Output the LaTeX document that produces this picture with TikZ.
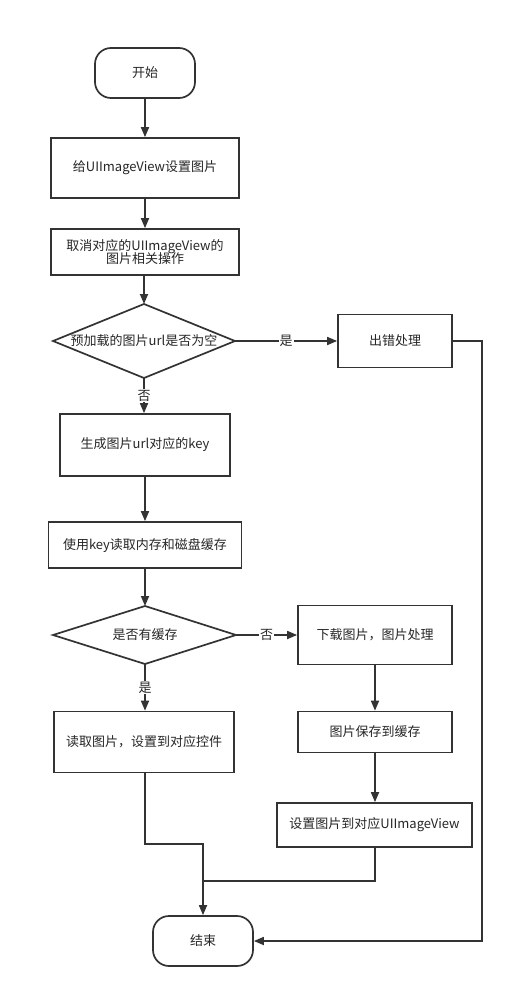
\documentclass[tikz,border=0pt]{standalone}
\usepackage{fontspec}
\setmainfont{Noto Sans CJK SC}
\usetikzlibrary{arrows.meta,shapes.geometric}
\begin{document}
\begin{tikzpicture}[x=1pt,y=-1pt,
  font=\fontsize{13}{15.5}\selectfont,
  every node/.style={text=black!85},
  line/.style={draw=black!80,line width=1.7pt},
  arr/.style={line,-{Triangle[length=10pt,width=8pt]}},
  term/.style={draw=black!80,line width=1.7pt,rounded corners=16pt,minimum width=100pt,minimum height=50pt,inner sep=0pt},
  proc/.style={draw=black!80,line width=1.7pt,inner sep=0pt,align=center},
  lbl/.style={fill=white,inner sep=1pt}]
\useasboundingbox (0,0) rectangle (513,998);
\node[term] (start) at (145,73) {开始};
\node[proc,minimum width=188pt,minimum height=60pt] (b1) at (145,168) {给UIImageView设置图片};
\node[proc,minimum width=188pt,minimum height=46pt] (b2) at (145,252) {取消对应的UIImageView的\\[-2pt]图片相关操作};
\draw[line] (53,341) coordinate (d1l) -- (144,304) coordinate (d1t) -- (235,341) coordinate (d1r) -- (144,378) coordinate (d1b) -- cycle;
\node (d1) at (144,341) {预加载的图片url是否为空};
\node[proc,minimum width=114pt,minimum height=53pt] (err) at (395,341) {出错处理};
\node[proc,minimum width=170pt,minimum height=62pt] (b3) at (145,445) {生成图片url对应的key};
\node[proc,minimum width=193pt,minimum height=46pt] (b4) at (145,545) {使用key读取内存和磁盘缓存};
\draw[line] (53,635) coordinate (d2l) -- (145,606) coordinate (d2t) -- (236,635) coordinate (d2r) -- (145,664) coordinate (d2b) -- cycle;
\node (d2) at (145,635) {是否有缓存};
\node[proc,minimum width=154pt,minimum height=59pt] (dl) at (375,635) {下载图片，图片处理};
\node[proc,minimum width=180pt,minimum height=61pt] (rd) at (144,742) {读取图片，设置到对应控件};
\node[proc,minimum width=154pt,minimum height=41pt] (sv) at (375,732) {图片保存到缓存};
\node[proc,minimum width=195pt,minimum height=44pt] (st) at (374.5,825) {设置图片到对应UIImageView};
\node[term] (end) at (203,941) {结束};
\draw[arr] (start) -- (b1);
\draw[arr] (b1) -- (b2);
\draw[arr] (b2.south -| d1t) -- (d1t);
\draw[arr] (d1r) -- node[lbl,pos=0.5]{是} (err);
\draw[arr] (d1b) -- node[lbl,pos=0.5]{否} (b3.north -| d1b);
\draw[arr] (b3) -- (b4);
\draw[arr] (b4) -- (d2t);
\draw[arr] (d2r) -- node[lbl,pos=0.5]{否} (dl);
\draw[arr] (d2b) -- node[lbl,pos=0.5]{是} (rd.north -| d2b);
\draw[arr] (dl) -- (sv);
\draw[arr] (sv) -- (st.north -| sv);
\coordinate (j1) at (145,844);
\coordinate (j2) at (203,881);
\draw[line] (rd.south -| j1) -- (j1) -- (j1 -| end) -- (j2);
\draw[line] (st.south -| sv) -- (375,881) -- (j2);
\draw[arr] (j1 -| end) -- (end);
\coordinate (e1) at (482,341);
\draw[arr] (err.east) -- (e1) -- (e1 |- end) -- (end.east);
\end{tikzpicture}
\end{document}
